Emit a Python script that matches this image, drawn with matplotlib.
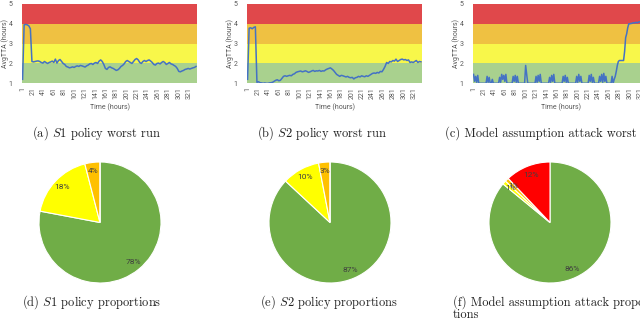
import matplotlib
matplotlib.use("Agg")
import matplotlib.pyplot as plt
import numpy as np

plt.rcParams['font.family'] = ['Roboto', 'DejaVu Sans']
plt.rcParams['mathtext.fontset'] = 'cm'

# AvgTTA per run, S1 and S2 sampled every 3 hours, attack run every 2 hours
s1_tta = [1.2, 3.95, 3.97, 3.95, 3.9, 3.75, 2.1, 2.08, 2.1, 2.12,
          2.13, 2.1, 2.05, 2.02, 2.1, 2.05, 2.0, 2.05, 2.08, 2.12,
          2.05, 2.22, 2.02, 2.15, 2.2, 2.1, 2.0, 1.95, 1.85, 1.82,
          1.78, 1.8, 1.83, 1.8, 1.85, 1.88, 1.85, 1.9, 1.88, 1.85,
          1.82, 1.88, 1.92, 1.98, 2.0, 1.95, 2.02, 2.05, 2.0, 2.12,
          2.18, 2.1, 1.95, 1.75, 1.7, 1.8, 1.83, 1.78, 1.75, 1.7,
          1.65, 1.68, 1.75, 1.85, 1.9, 1.98, 2.1, 2.15, 2.1, 2.05,
          2.0, 2.1, 2.2, 2.25, 2.18, 2.05, 2.0, 2.1, 2.15, 2.1,
          2.15, 2.18, 2.12, 2.05, 1.95, 1.92, 2.0, 2.02, 1.98, 2.05,
          2.1, 2.05, 1.95, 2.0, 2.05, 1.98, 1.95, 1.9, 1.85, 1.75,
          1.6, 1.58, 1.62, 1.65, 1.7, 1.72, 1.75, 1.72, 1.75, 1.78,
          1.8, 1.85]
s2_tta = [1.2, 3.78, 3.8, 3.75, 3.82, 3.85, 1.05, 1.08, 1.03, 1.02,
          1.0, 1.02, 1.0, 1.0, 1.02, 1.03, 1.05, 1.1, 1.15, 1.18,
          1.13, 1.15, 1.25, 1.35, 1.38, 1.35, 1.38, 1.4, 1.38, 1.45,
          1.48, 1.55, 1.58, 1.6, 1.62, 1.58, 1.6, 1.63, 1.6, 1.55,
          1.58, 1.62, 1.65, 1.6, 1.63, 1.62, 1.65, 1.6, 1.63, 1.62,
          1.68, 1.72, 1.75, 1.78, 1.72, 1.65, 1.55, 1.45, 1.4, 1.35,
          1.4, 1.38, 1.35, 1.32, 1.35, 1.3, 1.28, 1.3, 1.22, 1.28,
          1.3, 1.35, 1.32, 1.38, 1.35, 1.33, 1.38, 1.35, 1.4, 1.45,
          1.5, 1.52, 1.5, 1.55, 1.52, 1.6, 1.58, 1.7, 1.85, 2.05,
          2.0, 2.1, 2.08, 2.15, 2.12, 2.22, 2.1, 2.15, 2.2, 2.22,
          2.18, 2.2, 2.15, 2.18, 2.05, 2.08, 2.05, 2.1, 2.15, 2.05,
          2.1, 2.08]
attack_tta = [1.45, 1.1, 1.35, 1.05, 1.4, 1.0, 1.0, 1.0, 1.0, 1.0,
              1.0, 1.0, 1.0, 1.35, 1.05, 1.3, 1.0, 1.0, 1.2, 1.0,
              1.0, 1.0, 1.0, 1.0, 1.0, 1.3, 1.05, 1.45, 1.2, 1.4,
              1.1, 1.45, 1.0, 1.0, 1.0, 1.0, 1.0, 1.0, 1.35, 1.1,
              1.4, 1.05, 1.35, 1.0, 1.0, 1.0, 1.0, 1.0, 1.0, 1.0,
              1.9, 1.45, 1.0, 1.0, 1.0, 1.0, 1.0, 1.0, 1.0, 1.0,
              1.35, 1.05, 1.4, 1.1, 1.45, 1.0, 1.0, 1.0, 1.0, 1.0,
              1.0, 1.0, 1.0, 1.3, 1.05, 1.4, 1.1, 1.45, 1.0, 1.0,
              1.0, 1.0, 1.0, 1.0, 1.0, 1.0, 1.35, 1.1, 1.4, 1.05,
              1.3, 1.0, 1.0, 1.0, 1.0, 1.0, 1.0, 1.0, 1.0, 1.35,
              1.05, 1.45, 1.1, 1.35, 1.0, 1.0, 1.0, 1.0, 1.0, 1.0,
              1.0, 1.4, 1.1, 1.45, 1.05, 1.3, 1.0, 1.0, 1.0, 1.0,
              1.0, 1.35, 1.1, 1.45, 1.05, 1.5, 1.1, 1.35, 1.0, 1.0,
              1.0, 1.0, 1.0, 1.35, 1.0, 1.2, 1.35, 1.6, 1.9, 2.1,
              2.15, 2.15, 2.15, 2.15, 2.15, 2.6, 3.3, 3.5, 3.8, 4.0,
              4.0, 4.02, 4.02, 4.05, 4.05, 4.05, 4.08, 4.05, 4.08, 4.1,
              4.1, 4.1, 4.12, 4.1, 4.12, 4.15, 4.15, 4.15]

s1_hours = 1 + 3 * np.arange(len(s1_tta))
s2_hours = 1 + 3 * np.arange(len(s2_tta))
attack_hours = 1 + 2 * np.arange(len(attack_tta))

# share of time spent in each band: green, yellow, orange, red
s1_share = [78, 18, 4, 0]
s2_share = [87, 10, 3, 0]
attack_share = [86, 1, 1, 12]

x_ticks = np.arange(1, 337, 20)
band_colors = ['#a9d18e', '#f8f74a', '#efc142', '#e0484b']
pie_colors = ['#70ad47', '#ffff00', '#ffc000', '#ff0000']
gray = '#595959'

W, H = 640, 319
fig = plt.figure(figsize=(W / 100, H / 100), dpi=100)


def px_axes(left, top, width, height):
    return fig.add_axes([left / W, 1 - (top + height) / H, width / W, height / H])


def line_panel(left, hours, values):
    ax = px_axes(left, 4, 175, 79.3)
    for lo, c in zip(range(1, 5), band_colors):
        ax.axhspan(lo, lo + 1, color=c, lw=0)
    ax.plot(hours, values, color='#4472c4', lw=1.1)
    ax.set_xlim(0.5, 336.5)
    ax.set_ylim(1, 5)
    ax.set_yticks([1, 2, 3, 4, 5])
    ax.set_xticks(x_ticks)
    ax.set_xticklabels([str(t) for t in x_ticks], rotation=90)
    ax.tick_params(length=0, labelsize=5, colors=gray, pad=3)
    ax.tick_params(axis='y', pad=7)
    for s in ax.spines.values():
        s.set_visible(False)
    ax.text(0.5, -0.31, 'Time (hours)', transform=ax.transAxes,
            ha='center', va='center', fontsize=5, color=gray)
    ax.text(-0.1, 0.5, 'AvgTTA (hours)', transform=ax.transAxes, rotation=90,
            ha='center', va='center', fontsize=5, color=gray)
    return ax


def pie_panel(cx, shares):
    ax = px_axes(cx - 61, 162, 122, 121)
    ax.pie(shares, colors=pie_colors, startangle=90, counterclock=False,
           autopct=lambda p: '%d%%' % round(p) if p > 0 else '',
           pctdistance=0.85, wedgeprops=dict(edgecolor='white', linewidth=0.8),
           textprops=dict(fontsize=6, color='#404040'))
    ax.set_xlim(-1, 1)
    ax.set_ylim(-1, 1)
    ax.set_aspect('auto')
    return ax


line_panel(22.3, s1_hours, s1_tta)
line_panel(247.3, s2_hours, s2_tta)
line_panel(473.3, attack_hours, attack_tta)

pie_panel(100, s1_share)
pie_panel(330, s2_share)
pie_panel(550, attack_share)


def caption(x, y, s, ha='center'):
    fig.text(x / W, 1 - y / H, s, ha=ha, va='center', fontsize=9,
             family='cmr10', color='#222222')


caption(97, 133, r'(a) $S1$ policy worst run')
caption(322, 133, r'(b) $S2$ policy worst run')
caption(445, 133, '(c) Model assumption attack worst run', ha='left')
caption(92, 302, r'(d) $S1$ policy proportions')
caption(329, 302, r'(e) $S2$ policy proportions')
caption(453, 302, '(f) Model assumption attack propor-', ha='left')
caption(453, 315, 'tions', ha='left')

fig.savefig('out.png', dpi=100)
